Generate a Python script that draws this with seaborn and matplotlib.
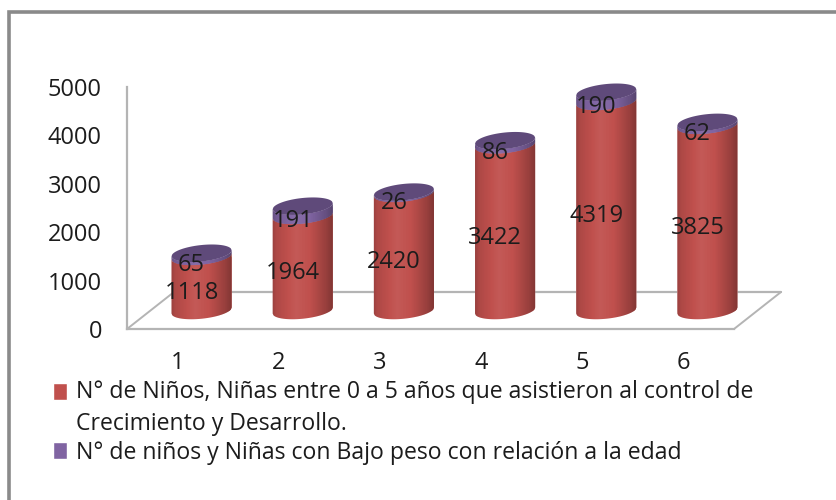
import numpy as np
import pandas as pd
import seaborn as sns
import matplotlib
matplotlib.use("Agg")
import matplotlib.pyplot as plt
from matplotlib.patches import Polygon, Patch, Rectangle
from matplotlib.transforms import Affine2D

# datos
meses = ["1", "2", "3", "4", "5", "6"]
ninos_control = [1118, 1964, 2420, 3422, 4319, 3825]
ninos_bajo_peso = [65, 191, 26, 86, 190, 62]
ticks_y = [0, 1000, 2000, 3000, 4000, 5000]
serie_control = "N° de Niños, Niñas entre 0 a 5 años que asistieron al control de\nCrecimiento y Desarrollo."
serie_bajo_peso = "N° de niños y Niñas con Bajo peso con relación a la edad"

ROJO = "#c0504d"
MORADO = "#8064a2"
MORADO_TAPA = "#5f4a7a"
GRIS = "#b4b4b4"
MARCO = "#8a8a8a"
TEXTO = "#1c1c1c"
ANCHO_PX, ALTO_PX = 836, 500

sns.set_theme(style="white")
plt.rcParams["font.family"] = ["Open Sans", "DejaVu Sans"]

fig = plt.figure(figsize=(ANCHO_PX / 100, ALTO_PX / 100), dpi=100)
# plano frontal del grafico en pixeles: x 127-734, y 87-329
ax = fig.add_axes([127 / ANCHO_PX, 1 - 329 / ALTO_PX, 607 / ANCHO_PX, 242 / ALTO_PX])

df = pd.DataFrame({"mes": meses, "control": ninos_control, "bajo": ninos_bajo_peso})
df["total"] = df["control"] + df["bajo"]

ANCHO_BARRA = 60 / 101
sns.barplot(data=df, x="mes", y="total", color=MORADO, saturation=1, width=ANCHO_BARRA, ax=ax, zorder=3)
sns.barplot(data=df, x="mes", y="control", color=ROJO, saturation=1, width=ANCHO_BARRA, ax=ax, zorder=3)

ax.set_xlim(-0.5, 5.5)
ax.set_ylim(0, 5000)

# los cilindros van desplazados hacia el fondo del piso 3D
tf_marcas = ax.transData + Affine2D().translate(24, 18.5)
tf_textos = ax.transData + Affine2D().translate(14, 8.5)

INCL = 62   # inclinacion de la elipse, en unidades de y
SEMI = 170  # semieje vertical de la elipse


def arco(xc, nivel, signo):
    u = np.linspace(-1, 1, 80)
    return np.column_stack([xc + u * ANCHO_BARRA / 2, nivel + INCL * u + signo * SEMI * np.sqrt(1 - u**2)])


def tramo(xc, y0, y1, color):
    pts = np.vstack([arco(xc, y0, -1), arco(xc, y1, -1)[::-1]])
    pol = Polygon(pts, closed=True, facecolor=color, edgecolor="none", transform=tf_marcas, zorder=3.1, clip_on=False)
    ax.add_patch(pol)
    return pol


# sombra horizontal del cilindro
u_stops = [0, 0.06, 0.38, 0.6, 0.85, 1]
a_stops = [0.2, 0.1, -0.06, 0.0, 0.2, 0.36]
u_grad = np.linspace(0, 1, 120)
a_grad = np.interp(u_grad, u_stops, a_stops)
sombra = np.zeros((1, 120, 4))
sombra[0, :, :3] = (a_grad < 0)[:, None]
sombra[0, :, 3] = np.abs(a_grad)

n = len(meses)
barras_total = ax.containers[0]
barras_control = ax.containers[1]
for i in range(n):
    c, t = df["control"][i], df["total"][i]
    rojo = tramo(i, 0, c, ROJO)
    morado = tramo(i, c, t, MORADO)
    for barra, pol in ((barras_total[i], morado), (barras_control[i], rojo)):
        barra.set_transform(tf_marcas)
        barra.set_clip_path(pol)
        barra.set_clip_box(None)

    lado = Polygon(np.vstack([arco(i, 0, -1), arco(i, t, -1)[::-1]]), closed=True, facecolor="none",
                   edgecolor="none", transform=tf_marcas)
    ax.add_patch(lado)
    # la imagen sobresale un poco: el recorte la deja al ancho del cilindro
    im = ax.imshow(sombra, extent=[i - ANCHO_BARRA / 2 - 0.005, i + ANCHO_BARRA / 2 + 0.015, -600, t + 600],
                   aspect="auto", transform=tf_marcas, zorder=3.2, interpolation="nearest")
    im.set_clip_path(lado)
    im.set_clip_box(fig.bbox)  # con None la imagen se corta en el borde del axes

    tapa = np.vstack([arco(i, t, -1), arco(i, t, 1)[::-1]])
    ax.add_patch(Polygon(tapa, closed=True, facecolor=MORADO_TAPA, edgecolor="none", transform=tf_marcas,
                         zorder=3.3, clip_on=False))

    ax.text(i, c / 2, f"{c}", transform=tf_textos, ha="center", va="center", fontsize=17, color=TEXTO, zorder=5)
    ax.text(i, c + df["bajo"][i] / 2, f"{df['bajo'][i]}", transform=tf_textos, ha="center", va="center",
            fontsize=17, color=TEXTO, zorder=5)

ax.set_xlim(-0.5, 5.5)
ax.set_ylim(0, 5000)
ax.set_xlabel("")
ax.set_ylabel("")
ax.set_yticks(ticks_y)
ax.patch.set_alpha(0)
ax.tick_params(axis="y", length=0, pad=18, labelsize=17, labelcolor=TEXTO)
ax.tick_params(axis="x", length=0, pad=16, labelsize=17, labelcolor=TEXTO)
for lado_eje in ("top", "right"):
    ax.spines[lado_eje].set_visible(False)
for lado_eje in ("left", "bottom"):
    ax.spines[lado_eje].set_color(GRIS)
    ax.spines[lado_eje].set_linewidth(1.6)

# piso en perspectiva
tf_piso = ax.transAxes + Affine2D().translate(47, 37)
ax.plot([0, 1], [0, 0], transform=tf_piso, color=GRIS, lw=1.6, zorder=0.5, clip_on=False)
for x0 in (0, 1):
    ax.plot([x0 * 607 + 127, x0 * 607 + 174], [171, 208], transform=None, color=GRIS, lw=1.4, zorder=0.5, clip_on=False)

leyenda = ax.legend(
    handles=[Patch(facecolor=ROJO, label=serie_control), Patch(facecolor=MORADO, label=serie_bajo_peso)],
    loc="upper left", bbox_to_anchor=(34.5 / ANCHO_PX, 1 - 361.5 / ALTO_PX), bbox_transform=fig.transFigure,
    frameon=False, fontsize=16.6, handlelength=0.62, handleheight=0.72, handletextpad=0.4, labelspacing=0.2,
    labelcolor=TEXTO, borderpad=0.3,
)
for t in leyenda.get_texts():
    t.set_linespacing(1.45)
# el cuadro de la primera serie va alineado con su primera linea
cuadro = leyenda.get_patches()[0]
cuadro.set_y(cuadro.get_y() + 12.5)

# marco exterior
fig.add_artist(Rectangle((9 / ANCHO_PX, -0.02), 900, 1 - 12 / ALTO_PX + 0.02, transform=fig.transFigure,
                         facecolor="none", edgecolor=MARCO, lw=2.6))

fig.savefig("out.png", dpi=100)
